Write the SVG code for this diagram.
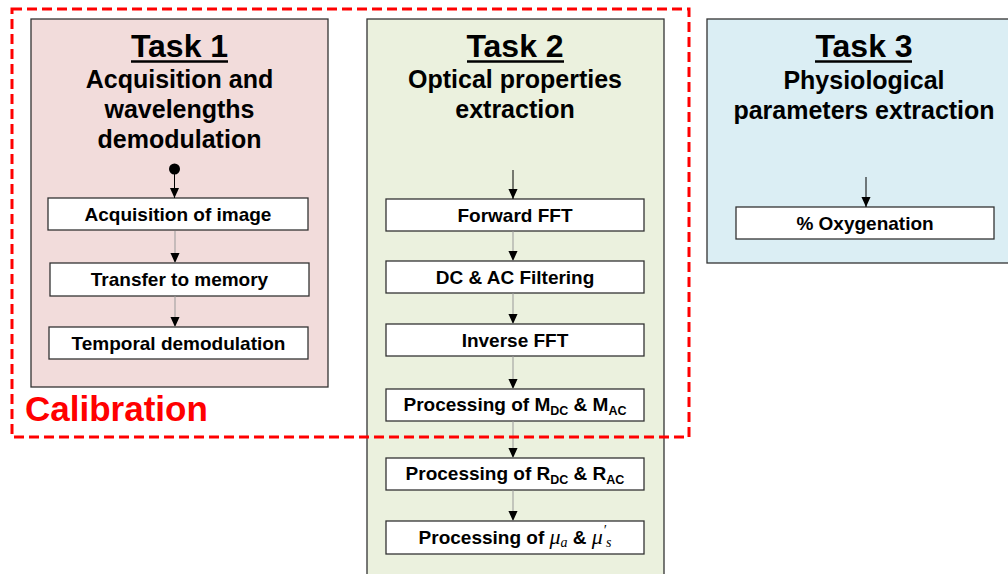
<svg xmlns="http://www.w3.org/2000/svg" width="1008" height="574" viewBox="0 0 1008 574">
<defs>
<marker id="ah" markerUnits="userSpaceOnUse" markerWidth="10" markerHeight="11" refX="11" refY="5" orient="auto" viewBox="0 0 11 10">
<path d="M0,0 L11,5 L0,10 z" fill="#000"/>
</marker>
</defs>
<style>
.panel{stroke:#333;stroke-width:1.3}
.t1{fill:#F2DCDB}.t2{fill:#EBF1DE}.t3{fill:#DBEEF4}
.title{font-family:"Liberation Sans",Arial,sans-serif;font-weight:bold;font-size:32px;text-anchor:middle;fill:#000}
.sub{font-family:"Liberation Sans",Arial,sans-serif;font-weight:bold;font-size:25px;text-anchor:middle;fill:#000}
.box{fill:#fff;stroke:#333;stroke-width:1.3}
.lbl{font-family:"Liberation Sans",Arial,sans-serif;font-weight:bold;font-size:19px;text-anchor:middle;fill:#000}
.conn{stroke:#999;stroke-width:1;fill:none;marker-end:url(#ah)}
.connb{stroke:#000;stroke-width:1;fill:none;marker-end:url(#ah)}
.math{font-family:"Liberation Serif","DejaVu Serif",serif;font-style:italic;font-weight:normal}
</style>
<g id="task1">
<rect class="panel t1" x="31" y="19" width="297" height="368"/>
<text class="title" x="179.5" y="57">Task 1</text>
<line x1="131" y1="61.5" x2="228" y2="61.5" stroke="#000" stroke-width="2.5"/>
<text class="sub" x="179.5" y="88">Acquisition and</text>
<text class="sub" x="179.5" y="118">wavelengths</text>
<text class="sub" x="179.5" y="148">demodulation</text>
<circle cx="174.5" cy="169" r="5.5" fill="#000"/>
</g>
<g id="task2">
<rect class="panel t2" x="367" y="19" width="297" height="570"/>
<text class="title" x="515" y="57">Task 2</text>
<line x1="467" y1="61.5" x2="564" y2="61.5" stroke="#000" stroke-width="2.5"/>
<text class="sub" x="515" y="88">Optical properties</text>
<text class="sub" x="515" y="118">extraction</text>
</g>
<g id="task3">
<rect class="panel t3" x="707" y="19" width="310" height="244"/>
<text class="title" x="864" y="57">Task 3</text>
<line x1="815" y1="61.5" x2="912" y2="61.5" stroke="#000" stroke-width="2.5"/>
<text class="sub" x="864" y="89">Physiological</text>
<text class="sub" x="864" y="119">parameters extraction</text>
</g>
<g id="n-acq">
<rect class="box" x="48" y="198" width="260" height="32"/>
<text class="lbl" x="178" y="221">Acquisition of image</text>
</g>
<g id="n-transfer">
<rect class="box" x="50" y="263" width="259" height="33"/>
<text class="lbl" x="179.5" y="286">Transfer to memory</text>
</g>
<g id="n-temporal">
<rect class="box" x="49" y="327" width="259" height="32"/>
<text class="lbl" x="178.5" y="350">Temporal demodulation</text>
</g>
<g id="n-fwd">
<rect class="box" x="386" y="199" width="258" height="32"/>
<text class="lbl" x="515" y="222">Forward FFT</text>
</g>
<g id="n-filter">
<rect class="box" x="386" y="261" width="258" height="32"/>
<text class="lbl" x="515" y="284">DC &amp; AC Filtering</text>
</g>
<g id="n-inv">
<rect class="box" x="386" y="324" width="258" height="32"/>
<text class="lbl" x="515" y="347">Inverse FFT</text>
</g>
<g id="n-m">
<rect class="box" x="386" y="389" width="258" height="32"/>
<text class="lbl" x="515" y="411">Processing of M<tspan font-size="12.5" dy="4">DC</tspan><tspan dy="-4"> &amp; M</tspan><tspan font-size="12.5" dy="4">AC</tspan></text>
</g>
<g id="n-r">
<rect class="box" x="386" y="458" width="258" height="32"/>
<text class="lbl" x="515" y="480">Processing of R<tspan font-size="12.5" dy="4">DC</tspan><tspan dy="-4"> &amp; R</tspan><tspan font-size="12.5" dy="4">AC</tspan></text>
</g>
<g id="n-mu">
<rect class="box" x="386" y="521" width="258" height="33"/>
<text class="lbl" x="515" y="544">Processing of <tspan class="math" font-size="22">μ</tspan><tspan class="math" font-size="14" dy="3">a</tspan><tspan dy="-3"> &amp; </tspan><tspan class="math" font-size="22">μ</tspan><tspan class="math" font-size="14" dy="-9">′</tspan><tspan class="math" font-size="14" dy="12">s</tspan></text>
</g>
<g id="n-oxy">
<rect class="box" x="736" y="207" width="258" height="32"/>
<text class="lbl" x="865" y="230">% Oxygenation</text>
</g>
<g id="connectors">
<line class="connb" x1="174.5" y1="172" x2="174.5" y2="198"/>
<line class="conn" x1="175" y1="231" x2="175" y2="263"/>
<line class="conn" x1="175" y1="296" x2="175" y2="327"/>
<line class="connb" x1="513" y1="170" x2="513" y2="199"/>
<line class="conn" x1="513" y1="231" x2="513" y2="261"/>
<line class="conn" x1="513" y1="293" x2="513" y2="324"/>
<line class="conn" x1="513" y1="356" x2="513" y2="389"/>
<line class="conn" x1="513" y1="421" x2="513" y2="458"/>
<line class="conn" x1="513" y1="490" x2="513" y2="521"/>
<line class="connb" x1="866" y1="177" x2="866" y2="207"/>
</g>
<g id="calibration">
<rect x="12" y="9" width="677" height="428" fill="none" stroke="#FF0000" stroke-width="3" stroke-dasharray="10,5"/>
<text x="25" y="421" font-family="'Liberation Sans',Arial,sans-serif" font-weight="bold" font-size="35" fill="#FF0000">Calibration</text>
</g>
</svg>
